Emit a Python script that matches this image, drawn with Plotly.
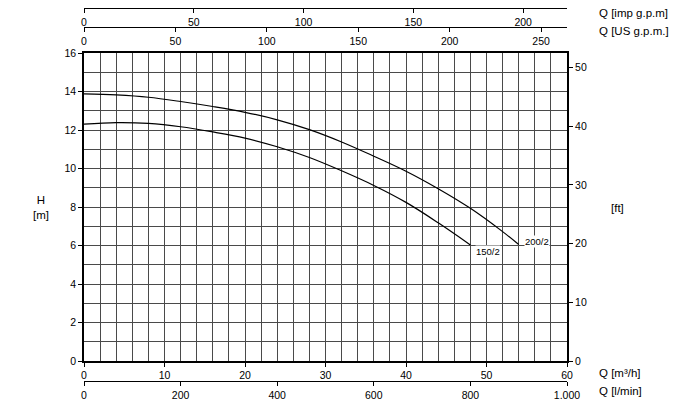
import plotly.graph_objects as go

# Data
q_200 = [0, 4, 8, 12, 16, 20, 24, 28, 32, 36, 40, 44, 48, 52, 54]
h_200 = [13.88, 13.82, 13.70, 13.48, 13.22, 12.92, 12.53, 12.02, 11.38, 10.64, 9.86, 8.95, 7.93, 6.72, 6.05]
q_150 = [0, 4, 8, 12, 16, 20, 24, 28, 32, 36, 40, 44, 48]
h_150 = [12.30, 12.38, 12.34, 12.17, 11.90, 11.58, 11.13, 10.57, 9.88, 9.12, 8.24, 7.18, 6.03]

m3h_ticks = [0, 10, 20, 30, 40, 50, 60]
lmin_ticks = [0, 200, 400, 600, 800, 1000]
lmin_text = ["0", "200", "400", "600", "800", "1.000"]
usgpm_ticks = [0, 50, 100, 150, 200, 250]
impgpm_ticks = [0, 50, 100, 150, 200]
h_ticks = [0, 2, 4, 6, 8, 10, 12, 14, 16]
ft_ticks = [0, 10, 20, 30, 40, 50]

Q_MAX = 60
H_MAX = 16
LMIN_MAX = Q_MAX * 1000 / 60
USGPM_MAX = Q_MAX * 4.40287
IMPGPM_MAX = Q_MAX * 3.66615
FT_MAX = H_MAX / 0.3048

FONT = "Liberation Sans"
GRID = "#4a4a4a"

fig = go.Figure()
fig.add_trace(go.Scatter(x=q_200, y=h_200, mode="lines", line=dict(color="black", width=1.2, shape="spline", smoothing=1.0),
                         showlegend=False, hoverinfo="skip"))
fig.add_trace(go.Scatter(x=q_150, y=h_150, mode="lines", line=dict(color="black", width=1.2, shape="spline", smoothing=1.0),
                         showlegend=False, hoverinfo="skip"))
# invisible carriers for the secondary axes
fig.add_trace(go.Scatter(x=[0, LMIN_MAX], y=[0, H_MAX], xaxis="x2", mode="markers", marker=dict(opacity=0), showlegend=False, hoverinfo="skip"))
fig.add_trace(go.Scatter(x=[0, USGPM_MAX], y=[0, H_MAX], xaxis="x3", mode="markers", marker=dict(opacity=0), showlegend=False, hoverinfo="skip"))
fig.add_trace(go.Scatter(x=[0, IMPGPM_MAX], y=[0, H_MAX], xaxis="x4", mode="markers", marker=dict(opacity=0), showlegend=False, hoverinfo="skip"))
fig.add_trace(go.Scatter(x=[0, Q_MAX], y=[0, FT_MAX], yaxis="y2", mode="markers", marker=dict(opacity=0), showlegend=False, hoverinfo="skip"))

W, H = 677, 412
ml, mr = 84, 110
pw = W - ml - mr

def py(pix):
    return (H - pix) / H

def px(pix):
    return (pix - ml) / pw

tickfont = dict(family=FONT, size=10.5, color="black")

fig.update_layout(
    width=W, height=H,
    margin=dict(l=ml, r=mr, t=0, b=0, autoexpand=False),
    paper_bgcolor="white", plot_bgcolor="white",
    font=dict(family=FONT, color="black"),
    xaxis=dict(range=[0, Q_MAX], tickmode="array", tickvals=m3h_ticks, ticks="outside", ticklen=4,
               tickcolor="black", showline=True, linecolor="black", linewidth=1.5, mirror=True,
               showgrid=True, gridcolor=GRID, gridwidth=1, zeroline=False, tickfont=tickfont,
               minor=dict(dtick=2, showgrid=True, gridcolor=GRID, gridwidth=1, ticks=""),
               domain=[0, 1], anchor="y", fixedrange=True, automargin=False),
    yaxis=dict(range=[0, H_MAX], tickmode="array", tickvals=h_ticks, ticks="outside", ticklen=4,
               tickcolor="black", showline=True, linecolor="black", linewidth=1.5, mirror=True,
               showgrid=True, gridcolor=GRID, gridwidth=1, zeroline=False, tickfont=tickfont,
               minor=dict(dtick=1, showgrid=True, gridcolor=GRID, gridwidth=1, ticks=""),
               domain=[py(361), py(53)], fixedrange=True, automargin=False),
    xaxis2=dict(range=[0, LMIN_MAX], overlaying="x", anchor="free", position=py(381), side="bottom",
                tickmode="array", tickvals=lmin_ticks, ticktext=lmin_text, ticks="outside", ticklen=4,
                tickcolor="black", showline=True, linecolor="black", linewidth=1, showgrid=False,
                zeroline=False, tickfont=tickfont, fixedrange=True, automargin=False),
    xaxis3=dict(range=[0, USGPM_MAX], overlaying="x", anchor="free", position=py(27), side="bottom",
                tickmode="array", tickvals=usgpm_ticks, ticks="outside", ticklen=4,
                tickcolor="black", showline=True, linecolor="black", linewidth=1, showgrid=False,
                zeroline=False, tickfont=tickfont, fixedrange=True, automargin=False),
    xaxis4=dict(range=[0, IMPGPM_MAX], overlaying="x", anchor="free", position=py(8), side="bottom",
                tickmode="array", tickvals=impgpm_ticks, ticks="outside", ticklen=4,
                tickcolor="black", showline=True, linecolor="black", linewidth=1, showgrid=False,
                zeroline=False, tickfont=tickfont, fixedrange=True, automargin=False),
    yaxis2=dict(range=[0, FT_MAX], overlaying="y", side="right", anchor="x",
                tickmode="array", tickvals=ft_ticks, ticks="outside", ticklen=5,
                tickcolor="black", showline=False, showgrid=False, zeroline=False,
                tickfont=tickfont, fixedrange=True, automargin=False),
)

lab = dict(family=FONT, size=11.5, color="black")
annots = [
    dict(text="Q [imp g.p.m]", x=px(597), y=py(13)),
    dict(text="Q [US g.p.m.]", x=px(597), y=py(31)),
    dict(text="Q [m³/h]", x=px(597), y=py(373)),
    dict(text="Q [l/min]", x=px(597), y=py(391)),
]
for a in annots:
    fig.add_annotation(xref="paper", yref="paper", xanchor="left", yanchor="middle",
                       showarrow=False, font=lab, **a)
fig.add_annotation(xref="paper", yref="paper", x=px(617), y=py(208), text="[ft]",
                   showarrow=False, font=lab, xanchor="center", yanchor="middle")
fig.add_annotation(xref="paper", yref="paper", x=px(41), y=py(207), text="H<br>[m]",
                   showarrow=False, font=lab, xanchor="center", yanchor="middle")
fig.add_annotation(x=54.6, y=6.2, text="200/2", showarrow=False, xanchor="left", yanchor="middle",
                   font=dict(family=FONT, size=9.5, color="black"), bgcolor="white", borderpad=0)
fig.add_annotation(x=48.6, y=5.68, text="150/2", showarrow=False, xanchor="left", yanchor="middle",
                   font=dict(family=FONT, size=9.5, color="black"), bgcolor="white", borderpad=0)

fig.write_html("out.html", config={"displayModeBar": False},
               post_script="document.body.style.margin='0';document.body.style.padding='0';")
